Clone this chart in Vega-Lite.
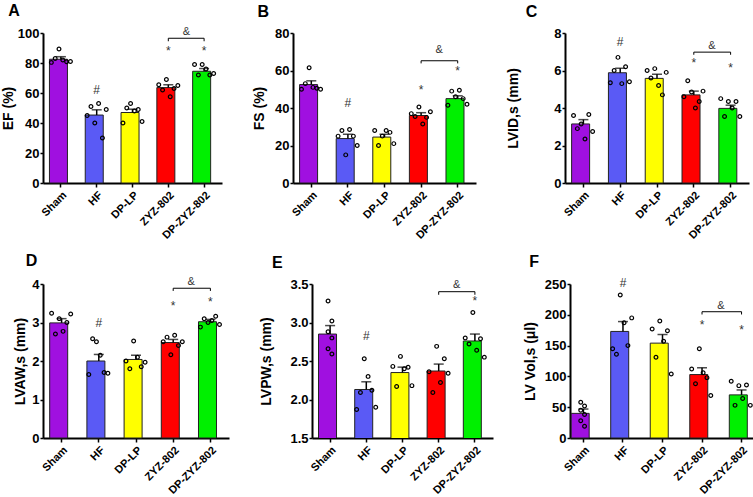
{
"$schema":"https://vega.github.io/schema/vega-lite/v6.json",
"padding":{"left":1,"top":2,"right":0,"bottom":0},
"spacing":11,
"data":{"values":[
{"p":"A","t":"b","g":"Sham","v":82.5,"hi":84.2},
{"p":"A","t":"b","g":"HF","v":45.3,"hi":48.8},
{"p":"A","t":"b","g":"DP-LP","v":47,"hi":49.2},
{"p":"A","t":"b","g":"ZYZ-802","v":63.6,"hi":65.5},
{"p":"A","t":"b","g":"DP-ZYZ-802","v":74.5,"hi":76.3},
{"p":"A","t":"s","g":"Sham","k":1,"v":80.4},{"p":"A","t":"s","g":"Sham","k":2,"v":83},{"p":"A","t":"s","g":"Sham","k":3,"v":89.3},{"p":"A","t":"s","g":"Sham","k":4,"v":82},{"p":"A","t":"s","g":"Sham","k":5,"v":80.8},{"p":"A","t":"s","g":"Sham","k":6,"v":81},
{"p":"A","t":"s","g":"HF","k":1,"v":45},{"p":"A","t":"s","g":"HF","k":2,"v":51},{"p":"A","t":"s","g":"HF","k":3,"v":40},{"p":"A","t":"s","g":"HF","k":4,"v":53},{"p":"A","t":"s","g":"HF","k":5,"v":30},{"p":"A","t":"s","g":"HF","k":6,"v":49},
{"p":"A","t":"s","g":"DP-LP","k":1,"v":40},{"p":"A","t":"s","g":"DP-LP","k":2,"v":50},{"p":"A","t":"s","g":"DP-LP","k":3,"v":53},{"p":"A","t":"s","g":"DP-LP","k":4,"v":48},{"p":"A","t":"s","g":"DP-LP","k":5,"v":49},{"p":"A","t":"s","g":"DP-LP","k":6,"v":41},
{"p":"A","t":"s","g":"ZYZ-802","k":1,"v":65.5},{"p":"A","t":"s","g":"ZYZ-802","k":2,"v":62},{"p":"A","t":"s","g":"ZYZ-802","k":3,"v":69},{"p":"A","t":"s","g":"ZYZ-802","k":4,"v":57.5},{"p":"A","t":"s","g":"ZYZ-802","k":5,"v":63},{"p":"A","t":"s","g":"ZYZ-802","k":6,"v":65},
{"p":"A","t":"s","g":"DP-ZYZ-802","k":1,"v":79},{"p":"A","t":"s","g":"DP-ZYZ-802","k":2,"v":72},{"p":"A","t":"s","g":"DP-ZYZ-802","k":3,"v":79},{"p":"A","t":"s","g":"DP-ZYZ-802","k":4,"v":76},{"p":"A","t":"s","g":"DP-ZYZ-802","k":5,"v":72},{"p":"A","t":"s","g":"DP-ZYZ-802","k":6,"v":73},
{"p":"A","t":"a","g":"HF","v":62,"l":"#"},{"p":"A","t":"a","g":"ZYZ-802","v":88,"l":"*"},{"p":"A","t":"a","g":"DP-ZYZ-802","v":88,"l":"*"},
{"p":"A","t":"m","g":"ZYZ-802","v":101,"l":"&"},
{"p":"A","t":"k","g":"ZYZ-802","v":94.5,"o":1},{"p":"A","t":"k","g":"ZYZ-802","v":96.5,"o":2},{"p":"A","t":"k","g":"DP-ZYZ-802","v":96.5,"o":3},{"p":"A","t":"k","g":"DP-ZYZ-802","v":94.5,"o":4},

{"p":"B","t":"b","g":"Sham","v":52.5,"hi":54.5},
{"p":"B","t":"b","g":"HF","v":23.7,"hi":26},
{"p":"B","t":"b","g":"DP-LP","v":24.5,"hi":26},
{"p":"B","t":"b","g":"ZYZ-802","v":36,"hi":37.5},
{"p":"B","t":"b","g":"DP-ZYZ-802","v":45,"hi":46.5},
{"p":"B","t":"s","g":"Sham","k":1,"v":50},{"p":"B","t":"s","g":"Sham","k":2,"v":53},{"p":"B","t":"s","g":"Sham","k":3,"v":61.5},{"p":"B","t":"s","g":"Sham","k":4,"v":51},{"p":"B","t":"s","g":"Sham","k":5,"v":50.5},{"p":"B","t":"s","g":"Sham","k":6,"v":50},
{"p":"B","t":"s","g":"HF","k":1,"v":25},{"p":"B","t":"s","g":"HF","k":2,"v":28},{"p":"B","t":"s","g":"HF","k":3,"v":15},{"p":"B","t":"s","g":"HF","k":4,"v":28.5},{"p":"B","t":"s","g":"HF","k":5,"v":25},{"p":"B","t":"s","g":"HF","k":6,"v":20},
{"p":"B","t":"s","g":"DP-LP","k":1,"v":28},{"p":"B","t":"s","g":"DP-LP","k":2,"v":20},{"p":"B","t":"s","g":"DP-LP","k":3,"v":25},{"p":"B","t":"s","g":"DP-LP","k":4,"v":28},{"p":"B","t":"s","g":"DP-LP","k":5,"v":27},{"p":"B","t":"s","g":"DP-LP","k":6,"v":21},
{"p":"B","t":"s","g":"ZYZ-802","k":1,"v":37},{"p":"B","t":"s","g":"ZYZ-802","k":2,"v":35.5},{"p":"B","t":"s","g":"ZYZ-802","k":3,"v":40.5},{"p":"B","t":"s","g":"ZYZ-802","k":4,"v":31.5},{"p":"B","t":"s","g":"ZYZ-802","k":5,"v":35},{"p":"B","t":"s","g":"ZYZ-802","k":6,"v":38},
{"p":"B","t":"s","g":"DP-ZYZ-802","k":1,"v":41.5},{"p":"B","t":"s","g":"DP-ZYZ-802","k":2,"v":49},{"p":"B","t":"s","g":"DP-ZYZ-802","k":3,"v":46},{"p":"B","t":"s","g":"DP-ZYZ-802","k":4,"v":49.5},{"p":"B","t":"s","g":"DP-ZYZ-802","k":5,"v":45},{"p":"B","t":"s","g":"DP-ZYZ-802","k":6,"v":42},
{"p":"B","t":"a","g":"HF","v":42.8,"l":"#"},{"p":"B","t":"a","g":"ZYZ-802","v":49.6,"l":"*"},{"p":"B","t":"a","g":"DP-ZYZ-802","v":60,"l":"*"},
{"p":"B","t":"m","g":"ZYZ-802","v":70.8,"l":"&"},
{"p":"B","t":"k","g":"ZYZ-802","v":63.8,"o":1},{"p":"B","t":"k","g":"ZYZ-802","v":65.2,"o":2},{"p":"B","t":"k","g":"DP-ZYZ-802","v":65.2,"o":3},{"p":"B","t":"k","g":"DP-ZYZ-802","v":63.8,"o":4},

{"p":"C","t":"b","g":"Sham","v":3.15,"hi":3.38},
{"p":"C","t":"b","g":"HF","v":5.88,"hi":6.12},
{"p":"C","t":"b","g":"DP-LP","v":5.58,"hi":5.8},
{"p":"C","t":"b","g":"ZYZ-802","v":4.7,"hi":4.9},
{"p":"C","t":"b","g":"DP-ZYZ-802","v":3.98,"hi":4.15},
{"p":"C","t":"s","g":"Sham","k":1,"v":3.6},{"p":"C","t":"s","g":"Sham","k":2,"v":2.9},{"p":"C","t":"s","g":"Sham","k":3,"v":3.15},{"p":"C","t":"s","g":"Sham","k":4,"v":2.35},{"p":"C","t":"s","g":"Sham","k":5,"v":3.65},{"p":"C","t":"s","g":"Sham","k":6,"v":2.75},
{"p":"C","t":"s","g":"HF","k":1,"v":5.35},{"p":"C","t":"s","g":"HF","k":2,"v":6.0},{"p":"C","t":"s","g":"HF","k":3,"v":6.7},{"p":"C","t":"s","g":"HF","k":4,"v":5.3},{"p":"C","t":"s","g":"HF","k":5,"v":6.2},{"p":"C","t":"s","g":"HF","k":6,"v":5.4},
{"p":"C","t":"s","g":"DP-LP","k":1,"v":6.0},{"p":"C","t":"s","g":"DP-LP","k":2,"v":5.6},{"p":"C","t":"s","g":"DP-LP","k":3,"v":6.1},{"p":"C","t":"s","g":"DP-LP","k":4,"v":5.2},{"p":"C","t":"s","g":"DP-LP","k":5,"v":4.7},{"p":"C","t":"s","g":"DP-LP","k":6,"v":5.9},
{"p":"C","t":"s","g":"ZYZ-802","k":1,"v":4.6},{"p":"C","t":"s","g":"ZYZ-802","k":2,"v":5.45},{"p":"C","t":"s","g":"ZYZ-802","k":3,"v":4.85},{"p":"C","t":"s","g":"ZYZ-802","k":4,"v":4.0},{"p":"C","t":"s","g":"ZYZ-802","k":5,"v":4.35},{"p":"C","t":"s","g":"ZYZ-802","k":6,"v":4.9},
{"p":"C","t":"s","g":"DP-ZYZ-802","k":1,"v":4.5},{"p":"C","t":"s","g":"DP-ZYZ-802","k":2,"v":3.55},{"p":"C","t":"s","g":"DP-ZYZ-802","k":3,"v":4.35},{"p":"C","t":"s","g":"DP-ZYZ-802","k":4,"v":4.0},{"p":"C","t":"s","g":"DP-ZYZ-802","k":5,"v":4.35},{"p":"C","t":"s","g":"DP-ZYZ-802","k":6,"v":3.55},
{"p":"C","t":"a","g":"HF","v":7.5,"l":"#"},{"p":"C","t":"a","g":"ZYZ-802","v":6.4,"l":"*"},{"p":"C","t":"a","g":"DP-ZYZ-802","v":6.15,"l":"*"},
{"p":"C","t":"m","g":"ZYZ-802","v":7.3,"l":"&"},
{"p":"C","t":"k","g":"ZYZ-802","v":6.84,"o":1},{"p":"C","t":"k","g":"ZYZ-802","v":6.98,"o":2},{"p":"C","t":"k","g":"DP-ZYZ-802","v":6.98,"o":3},{"p":"C","t":"k","g":"DP-ZYZ-802","v":6.84,"o":4},

{"p":"D","t":"b","g":"Sham","v":2.99,"hi":3.1},
{"p":"D","t":"b","g":"HF","v":2.0,"hi":2.17},
{"p":"D","t":"b","g":"DP-LP","v":2.04,"hi":2.15},
{"p":"D","t":"b","g":"ZYZ-802","v":2.48,"hi":2.56},
{"p":"D","t":"b","g":"DP-ZYZ-802","v":3.02,"hi":3.08},
{"p":"D","t":"s","g":"Sham","k":1,"v":3.24},{"p":"D","t":"s","g":"Sham","k":2,"v":2.7},{"p":"D","t":"s","g":"Sham","k":3,"v":3.1},{"p":"D","t":"s","g":"Sham","k":4,"v":2.77},{"p":"D","t":"s","g":"Sham","k":5,"v":3.0},{"p":"D","t":"s","g":"Sham","k":6,"v":3.22},
{"p":"D","t":"s","g":"HF","k":1,"v":1.65},{"p":"D","t":"s","g":"HF","k":2,"v":2.58},{"p":"D","t":"s","g":"HF","k":3,"v":2.5},{"p":"D","t":"s","g":"HF","k":4,"v":2.15},{"p":"D","t":"s","g":"HF","k":5,"v":1.7},{"p":"D","t":"s","g":"HF","k":6,"v":1.68},
{"p":"D","t":"s","g":"DP-LP","k":1,"v":2.0},{"p":"D","t":"s","g":"DP-LP","k":2,"v":1.8},{"p":"D","t":"s","g":"DP-LP","k":3,"v":2.52},{"p":"D","t":"s","g":"DP-LP","k":4,"v":2.1},{"p":"D","t":"s","g":"DP-LP","k":5,"v":1.85},{"p":"D","t":"s","g":"DP-LP","k":6,"v":1.97},
{"p":"D","t":"s","g":"ZYZ-802","k":1,"v":2.5},{"p":"D","t":"s","g":"ZYZ-802","k":2,"v":2.62},{"p":"D","t":"s","g":"ZYZ-802","k":3,"v":2.16},{"p":"D","t":"s","g":"ZYZ-802","k":4,"v":2.67},{"p":"D","t":"s","g":"ZYZ-802","k":5,"v":2.4},{"p":"D","t":"s","g":"ZYZ-802","k":6,"v":2.5},
{"p":"D","t":"s","g":"DP-ZYZ-802","k":1,"v":2.88},{"p":"D","t":"s","g":"DP-ZYZ-802","k":2,"v":3.1},{"p":"D","t":"s","g":"DP-ZYZ-802","k":3,"v":3.0},{"p":"D","t":"s","g":"DP-ZYZ-802","k":4,"v":3.05},{"p":"D","t":"s","g":"DP-ZYZ-802","k":5,"v":3.16},{"p":"D","t":"s","g":"DP-ZYZ-802","k":6,"v":2.95},
{"p":"D","t":"a","g":"HF","v":3.0,"l":"#"},{"p":"D","t":"a","g":"ZYZ-802","v":3.42,"l":"*"},{"p":"D","t":"a","g":"DP-ZYZ-802","v":3.54,"l":"*"},
{"p":"D","t":"m","g":"ZYZ-802","v":4.06,"l":"&"},
{"p":"D","t":"k","g":"ZYZ-802","v":3.82,"o":1},{"p":"D","t":"k","g":"ZYZ-802","v":3.89,"o":2},{"p":"D","t":"k","g":"DP-ZYZ-802","v":3.89,"o":3},{"p":"D","t":"k","g":"DP-ZYZ-802","v":3.82,"o":4},

{"p":"E","t":"b","g":"Sham","v":2.85,"hi":2.96},
{"p":"E","t":"b","g":"HF","v":2.13,"hi":2.23},
{"p":"E","t":"b","g":"DP-LP","v":2.35,"hi":2.42},
{"p":"E","t":"b","g":"ZYZ-802","v":2.37,"hi":2.46},
{"p":"E","t":"b","g":"DP-ZYZ-802","v":2.76,"hi":2.85},
{"p":"E","t":"s","g":"Sham","k":3,"v":3.28},{"p":"E","t":"s","g":"Sham","k":4,"v":3.02},{"p":"E","t":"s","g":"Sham","k":3,"v":2.88},{"p":"E","t":"s","g":"Sham","k":4,"v":2.8},{"p":"E","t":"s","g":"Sham","k":3,"v":2.66},{"p":"E","t":"s","g":"Sham","k":4,"v":2.59},
{"p":"E","t":"s","g":"HF","k":1,"v":1.87},{"p":"E","t":"s","g":"HF","k":2,"v":2.09},{"p":"E","t":"s","g":"HF","k":3,"v":2.53},{"p":"E","t":"s","g":"HF","k":4,"v":2.3},{"p":"E","t":"s","g":"HF","k":5,"v":2.12},{"p":"E","t":"s","g":"HF","k":6,"v":1.9},
{"p":"E","t":"s","g":"DP-LP","k":1,"v":2.43},{"p":"E","t":"s","g":"DP-LP","k":2,"v":2.17},{"p":"E","t":"s","g":"DP-LP","k":3,"v":2.56},{"p":"E","t":"s","g":"DP-LP","k":4,"v":2.4},{"p":"E","t":"s","g":"DP-LP","k":5,"v":2.42},{"p":"E","t":"s","g":"DP-LP","k":6,"v":2.18},
{"p":"E","t":"s","g":"ZYZ-802","k":1,"v":2.36},{"p":"E","t":"s","g":"ZYZ-802","k":2,"v":2.09},{"p":"E","t":"s","g":"ZYZ-802","k":3,"v":2.69},{"p":"E","t":"s","g":"ZYZ-802","k":4,"v":2.22},{"p":"E","t":"s","g":"ZYZ-802","k":5,"v":2.53},{"p":"E","t":"s","g":"ZYZ-802","k":6,"v":2.34},
{"p":"E","t":"s","g":"DP-ZYZ-802","k":1,"v":2.8},{"p":"E","t":"s","g":"DP-ZYZ-802","k":2,"v":2.72},{"p":"E","t":"s","g":"DP-ZYZ-802","k":3,"v":3.13},{"p":"E","t":"s","g":"DP-ZYZ-802","k":4,"v":2.64},{"p":"E","t":"s","g":"DP-ZYZ-802","k":5,"v":2.79},{"p":"E","t":"s","g":"DP-ZYZ-802","k":6,"v":2.55},
{"p":"E","t":"a","g":"HF","v":2.82,"l":"#"},{"p":"E","t":"a","g":"DP-ZYZ-802","v":3.28,"l":"*"},
{"p":"E","t":"m","g":"ZYZ-802","v":3.49,"l":"&"},
{"p":"E","t":"k","g":"ZYZ-802","v":3.36,"o":1},{"p":"E","t":"k","g":"ZYZ-802","v":3.4,"o":2},{"p":"E","t":"k","g":"DP-ZYZ-802","v":3.4,"o":3},{"p":"E","t":"k","g":"DP-ZYZ-802","v":3.36,"o":4},

{"p":"F","t":"b","g":"Sham","v":40,"hi":47},
{"p":"F","t":"b","g":"HF","v":173,"hi":189},
{"p":"F","t":"b","g":"DP-LP","v":154,"hi":168},
{"p":"F","t":"b","g":"ZYZ-802","v":103,"hi":114},
{"p":"F","t":"b","g":"DP-ZYZ-802","v":70,"hi":78},
{"p":"F","t":"s","g":"Sham","k":3,"v":58},{"p":"F","t":"s","g":"Sham","k":4,"v":52},{"p":"F","t":"s","g":"Sham","k":3,"v":45},{"p":"F","t":"s","g":"Sham","k":4,"v":38},{"p":"F","t":"s","g":"Sham","k":3,"v":28},{"p":"F","t":"s","g":"Sham","k":4,"v":19},
{"p":"F","t":"s","g":"HF","k":1,"v":145},{"p":"F","t":"s","g":"HF","k":2,"v":136},{"p":"F","t":"s","g":"HF","k":3,"v":232},{"p":"F","t":"s","g":"HF","k":4,"v":187},{"p":"F","t":"s","g":"HF","k":5,"v":150},{"p":"F","t":"s","g":"HF","k":6,"v":195},
{"p":"F","t":"s","g":"DP-LP","k":1,"v":177},{"p":"F","t":"s","g":"DP-LP","k":2,"v":131},{"p":"F","t":"s","g":"DP-LP","k":3,"v":190},{"p":"F","t":"s","g":"DP-LP","k":4,"v":157},{"p":"F","t":"s","g":"DP-LP","k":5,"v":174},{"p":"F","t":"s","g":"DP-LP","k":6,"v":104},
{"p":"F","t":"s","g":"ZYZ-802","k":1,"v":112},{"p":"F","t":"s","g":"ZYZ-802","k":2,"v":88},{"p":"F","t":"s","g":"ZYZ-802","k":3,"v":145},{"p":"F","t":"s","g":"ZYZ-802","k":4,"v":106},{"p":"F","t":"s","g":"ZYZ-802","k":5,"v":98},{"p":"F","t":"s","g":"ZYZ-802","k":6,"v":69},
{"p":"F","t":"s","g":"DP-ZYZ-802","k":1,"v":92},{"p":"F","t":"s","g":"DP-ZYZ-802","k":2,"v":53},{"p":"F","t":"s","g":"DP-ZYZ-802","k":3,"v":85},{"p":"F","t":"s","g":"DP-ZYZ-802","k":4,"v":64},{"p":"F","t":"s","g":"DP-ZYZ-802","k":5,"v":86},{"p":"F","t":"s","g":"DP-ZYZ-802","k":6,"v":53},
{"p":"F","t":"a","g":"HF","v":251,"l":"#"},{"p":"F","t":"a","g":"ZYZ-802","v":184,"l":"*"},{"p":"F","t":"a","g":"DP-ZYZ-802","v":175,"l":"*"},
{"p":"F","t":"m","g":"ZYZ-802","v":214,"l":"&"},
{"p":"F","t":"k","g":"ZYZ-802","v":200.5,"o":1},{"p":"F","t":"k","g":"ZYZ-802","v":205,"o":2},{"p":"F","t":"k","g":"DP-ZYZ-802","v":205,"o":3},{"p":"F","t":"k","g":"DP-ZYZ-802","v":200.5,"o":4}
]},
"vconcat":[
{"spacing":30,"hconcat":[
{"width":179,"height":150,"title":{"text":"A","anchor":"start","frame":"bounds","dx":7,"fontSize":16,"fontWeight":"bold","offset":7},"transform":[{"filter":"datum.p==='A'"}],
 "encoding":{"x":{"field":"g","type":"nominal","sort":["Sham","HF","DP-LP","ZYZ-802","DP-ZYZ-802"],"title":null,"scale":{"paddingInner":0.36}},
  "y":{"field":"v","type":"quantitative","title":"EF (%)","scale":{"domain":[0,100],"nice":false},"axis":{"values":[0,20,40,60,80,100],"titlePadding":2}}},
 "layer":[
  {"transform":[{"filter":"datum.t==='b'"}],"mark":{"type":"bar","stroke":"#222","strokeWidth":1},"encoding":{"color":{"field":"g","type":"nominal","scale":{"domain":["Sham","HF","DP-LP","ZYZ-802","DP-ZYZ-802"],"range":["#A010E0","#5A5AF5","#FFFF00","#FF0000","#00F000"]},"legend":null}}},
  {"transform":[{"filter":"datum.t==='b'"}],"mark":{"type":"rule","strokeWidth":1.5,"color":"black"},"encoding":{"y2":{"field":"hi"}}},
  {"transform":[{"filter":"datum.t==='b'"}],"mark":{"type":"tick","thickness":1.5,"size":10,"color":"black"},"encoding":{"y":{"field":"hi","type":"quantitative","title":"EF (%)","scale":{"domain":[0,100],"nice":false}}}},
  {"transform":[{"filter":"datum.t==='s'"}],"mark":{"type":"point","shape":"circle","filled":false,"color":"black","strokeWidth":1.2,"size":14,"opacity":1},"encoding":{"xOffset":{"field":"k","type":"nominal","scale":{"domain":[1,2,3,4,5,6],"paddingInner":0,"paddingOuter":0.5}}}},
  {"transform":[{"filter":"datum.t==='a'"}],"mark":{"type":"text","fontSize":12,"color":"#333"},"encoding":{"text":{"field":"l"}}},
  {"transform":[{"filter":"datum.t==='m'"}],"mark":{"type":"text","fontSize":11,"color":"#333","dx":18},"encoding":{"text":{"field":"l"}}},
  {"transform":[{"filter":"datum.t==='k'"}],"mark":{"type":"line","color":"black","strokeWidth":1},"encoding":{"order":{"field":"o"}}}
 ]},
{"width":183,"height":150,"title":{"text":"B","anchor":"start","frame":"bounds","dx":5,"fontSize":16,"fontWeight":"bold","offset":7},"transform":[{"filter":"datum.p==='B'"}],
 "encoding":{"x":{"field":"g","type":"nominal","sort":["Sham","HF","DP-LP","ZYZ-802","DP-ZYZ-802"],"title":null,"scale":{"paddingInner":0.36}},
  "y":{"field":"v","type":"quantitative","title":"FS (%)","scale":{"domain":[0,80],"nice":false},"axis":{"values":[0,20,40,60,80],"titlePadding":8}}},
 "layer":[
  {"transform":[{"filter":"datum.t==='b'"}],"mark":{"type":"bar","stroke":"#222","strokeWidth":1},"encoding":{"color":{"field":"g","type":"nominal","scale":{"domain":["Sham","HF","DP-LP","ZYZ-802","DP-ZYZ-802"],"range":["#A010E0","#5A5AF5","#FFFF00","#FF0000","#00F000"]},"legend":null}}},
  {"transform":[{"filter":"datum.t==='b'"}],"mark":{"type":"rule","strokeWidth":1.5,"color":"black"},"encoding":{"y2":{"field":"hi"}}},
  {"transform":[{"filter":"datum.t==='b'"}],"mark":{"type":"tick","thickness":1.5,"size":10,"color":"black"},"encoding":{"y":{"field":"hi","type":"quantitative","title":"FS (%)","scale":{"domain":[0,80],"nice":false}}}},
  {"transform":[{"filter":"datum.t==='s'"}],"mark":{"type":"point","shape":"circle","filled":false,"color":"black","strokeWidth":1.2,"size":14,"opacity":1},"encoding":{"xOffset":{"field":"k","type":"nominal","scale":{"domain":[1,2,3,4,5,6],"paddingInner":0,"paddingOuter":0.5}}}},
  {"transform":[{"filter":"datum.t==='a'"}],"mark":{"type":"text","fontSize":12,"color":"#333"},"encoding":{"text":{"field":"l"}}},
  {"transform":[{"filter":"datum.t==='m'"}],"mark":{"type":"text","fontSize":11,"color":"#333","dx":18},"encoding":{"text":{"field":"l"}}},
  {"transform":[{"filter":"datum.t==='k'"}],"mark":{"type":"line","color":"black","strokeWidth":1},"encoding":{"order":{"field":"o"}}}
 ]},
{"width":184,"height":150,"title":{"text":"C","anchor":"start","frame":"bounds","dx":19,"fontSize":16,"fontWeight":"bold","offset":7},"transform":[{"filter":"datum.p==='C'"}],
 "encoding":{"x":{"field":"g","type":"nominal","sort":["Sham","HF","DP-LP","ZYZ-802","DP-ZYZ-802"],"title":null,"scale":{"paddingInner":0.36}},
  "y":{"field":"v","type":"quantitative","title":"LVID,s (mm)","scale":{"domain":[0,8],"nice":false},"axis":{"values":[0,2,4,6,8],"titlePadding":33}}},
 "layer":[
  {"transform":[{"filter":"datum.t==='b'"}],"mark":{"type":"bar","stroke":"#222","strokeWidth":1},"encoding":{"color":{"field":"g","type":"nominal","scale":{"domain":["Sham","HF","DP-LP","ZYZ-802","DP-ZYZ-802"],"range":["#A010E0","#5A5AF5","#FFFF00","#FF0000","#00F000"]},"legend":null}}},
  {"transform":[{"filter":"datum.t==='b'"}],"mark":{"type":"rule","strokeWidth":1.5,"color":"black"},"encoding":{"y2":{"field":"hi"}}},
  {"transform":[{"filter":"datum.t==='b'"}],"mark":{"type":"tick","thickness":1.5,"size":10,"color":"black"},"encoding":{"y":{"field":"hi","type":"quantitative","title":"LVID,s (mm)","scale":{"domain":[0,8],"nice":false}}}},
  {"transform":[{"filter":"datum.t==='s'"}],"mark":{"type":"point","shape":"circle","filled":false,"color":"black","strokeWidth":1.2,"size":14,"opacity":1},"encoding":{"xOffset":{"field":"k","type":"nominal","scale":{"domain":[1,2,3,4,5,6],"paddingInner":0,"paddingOuter":0.5}}}},
  {"transform":[{"filter":"datum.t==='a'"}],"mark":{"type":"text","fontSize":12,"color":"#333"},"encoding":{"text":{"field":"l"}}},
  {"transform":[{"filter":"datum.t==='m'"}],"mark":{"type":"text","fontSize":11,"color":"#333","dx":18},"encoding":{"text":{"field":"l"}}},
  {"transform":[{"filter":"datum.t==='k'"}],"mark":{"type":"line","color":"black","strokeWidth":1},"encoding":{"order":{"field":"o"}}}
 ]}
]},
{"spacing":30,"hconcat":[
{"width":186,"height":154,"title":{"text":"D","anchor":"start","frame":"bounds","dx":12,"fontSize":16,"fontWeight":"bold","offset":7},"transform":[{"filter":"datum.p==='D'"}],
 "encoding":{"x":{"field":"g","type":"nominal","sort":["Sham","HF","DP-LP","ZYZ-802","DP-ZYZ-802"],"title":null,"scale":{"paddingInner":0.36}},
  "y":{"field":"v","type":"quantitative","title":"LVAW,s (mm)","scale":{"domain":[0,4],"nice":false},"axis":{"values":[0,1,2,3,4],"titlePadding":4}}},
 "layer":[
  {"transform":[{"filter":"datum.t==='b'"}],"mark":{"type":"bar","stroke":"#222","strokeWidth":1},"encoding":{"color":{"field":"g","type":"nominal","scale":{"domain":["Sham","HF","DP-LP","ZYZ-802","DP-ZYZ-802"],"range":["#A010E0","#5A5AF5","#FFFF00","#FF0000","#00F000"]},"legend":null}}},
  {"transform":[{"filter":"datum.t==='b'"}],"mark":{"type":"rule","strokeWidth":1.5,"color":"black"},"encoding":{"y2":{"field":"hi"}}},
  {"transform":[{"filter":"datum.t==='b'"}],"mark":{"type":"tick","thickness":1.5,"size":10,"color":"black"},"encoding":{"y":{"field":"hi","type":"quantitative","title":"LVAW,s (mm)","scale":{"domain":[0,4],"nice":false}}}},
  {"transform":[{"filter":"datum.t==='s'"}],"mark":{"type":"point","shape":"circle","filled":false,"color":"black","strokeWidth":1.2,"size":14,"opacity":1},"encoding":{"xOffset":{"field":"k","type":"nominal","scale":{"domain":[1,2,3,4,5,6],"paddingInner":0,"paddingOuter":0.5}}}},
  {"transform":[{"filter":"datum.t==='a'"}],"mark":{"type":"text","fontSize":12,"color":"#333"},"encoding":{"text":{"field":"l"}}},
  {"transform":[{"filter":"datum.t==='m'"}],"mark":{"type":"text","fontSize":11,"color":"#333","dx":18},"encoding":{"text":{"field":"l"}}},
  {"transform":[{"filter":"datum.t==='k'"}],"mark":{"type":"line","color":"black","strokeWidth":1},"encoding":{"order":{"field":"o"}}}
 ]},
{"width":181,"height":154,"title":{"text":"E","anchor":"start","frame":"bounds","dx":12,"fontSize":16,"fontWeight":"bold","offset":7},"transform":[{"filter":"datum.p==='E'"}],
 "encoding":{"x":{"field":"g","type":"nominal","sort":["Sham","HF","DP-LP","ZYZ-802","DP-ZYZ-802"],"title":null,"scale":{"paddingInner":0.36}},
  "y":{"field":"v","type":"quantitative","title":"LVPW,s (mm)","scale":{"domain":[1.5,3.5],"nice":false,"zero":false},"axis":{"values":[1.5,2,2.5,3,3.5],"format":".1f","titlePadding":16}}},
 "layer":[
  {"transform":[{"filter":"datum.t==='b'"}],"mark":{"type":"bar","stroke":"#222","strokeWidth":1,"clip":true},"encoding":{"color":{"field":"g","type":"nominal","scale":{"domain":["Sham","HF","DP-LP","ZYZ-802","DP-ZYZ-802"],"range":["#A010E0","#5A5AF5","#FFFF00","#FF0000","#00F000"]},"legend":null}}},
  {"transform":[{"filter":"datum.t==='b'"}],"mark":{"type":"rule","strokeWidth":1.5,"color":"black"},"encoding":{"y2":{"field":"hi"}}},
  {"transform":[{"filter":"datum.t==='b'"}],"mark":{"type":"tick","thickness":1.5,"size":10,"color":"black"},"encoding":{"y":{"field":"hi","type":"quantitative","title":"LVPW,s (mm)","scale":{"domain":[1.5,3.5],"nice":false,"zero":false}}}},
  {"transform":[{"filter":"datum.t==='s'"}],"mark":{"type":"point","shape":"circle","filled":false,"color":"black","strokeWidth":1.2,"size":14,"opacity":1},"encoding":{"xOffset":{"field":"k","type":"nominal","scale":{"domain":[1,2,3,4,5,6],"paddingInner":0,"paddingOuter":0.5}}}},
  {"transform":[{"filter":"datum.t==='a'"}],"mark":{"type":"text","fontSize":12,"color":"#333"},"encoding":{"text":{"field":"l"}}},
  {"transform":[{"filter":"datum.t==='m'"}],"mark":{"type":"text","fontSize":11,"color":"#333","dx":18},"encoding":{"text":{"field":"l"}}},
  {"transform":[{"filter":"datum.t==='k'"}],"mark":{"type":"line","color":"black","strokeWidth":1},"encoding":{"order":{"field":"o"}}}
 ]},
{"width":185,"height":154,"title":{"text":"F","anchor":"start","frame":"bounds","dx":6,"fontSize":16,"fontWeight":"bold","offset":7},"transform":[{"filter":"datum.p==='F'"}],
 "encoding":{"x":{"field":"g","type":"nominal","sort":["Sham","HF","DP-LP","ZYZ-802","DP-ZYZ-802"],"title":null,"scale":{"paddingInner":0.38,"paddingOuter":0.03}},
  "y":{"field":"v","type":"quantitative","title":"LV Vol,s (μl)","scale":{"domain":[0,250],"nice":false},"axis":{"values":[0,50,100,150,200,250],"titlePadding":7}}},
 "layer":[
  {"transform":[{"filter":"datum.t==='b'"}],"mark":{"type":"bar","stroke":"#222","strokeWidth":1},"encoding":{"color":{"field":"g","type":"nominal","scale":{"domain":["Sham","HF","DP-LP","ZYZ-802","DP-ZYZ-802"],"range":["#A010E0","#5A5AF5","#FFFF00","#FF0000","#00F000"]},"legend":null}}},
  {"transform":[{"filter":"datum.t==='b'"}],"mark":{"type":"rule","strokeWidth":1.5,"color":"black"},"encoding":{"y2":{"field":"hi"}}},
  {"transform":[{"filter":"datum.t==='b'"}],"mark":{"type":"tick","thickness":1.5,"size":10,"color":"black"},"encoding":{"y":{"field":"hi","type":"quantitative","title":"LV Vol,s (μl)","scale":{"domain":[0,250],"nice":false}}}},
  {"transform":[{"filter":"datum.t==='s'"}],"mark":{"type":"point","shape":"circle","filled":false,"color":"black","strokeWidth":1.2,"size":14,"opacity":1},"encoding":{"xOffset":{"field":"k","type":"nominal","scale":{"domain":[1,2,3,4,5,6],"paddingInner":0,"paddingOuter":0.5}}}},
  {"transform":[{"filter":"datum.t==='a'"}],"mark":{"type":"text","fontSize":12,"color":"#333"},"encoding":{"text":{"field":"l"}}},
  {"transform":[{"filter":"datum.t==='m'"}],"mark":{"type":"text","fontSize":11,"color":"#333","dx":19},"encoding":{"text":{"field":"l"}}},
  {"transform":[{"filter":"datum.t==='k'"}],"mark":{"type":"line","color":"black","strokeWidth":1},"encoding":{"order":{"field":"o"}}}
 ]}
]}
],
"config":{
 "view":{"stroke":null},
 "font":"Liberation Sans",
 "axis":{"grid":false,"domainColor":"black","tickColor":"black","labelColor":"black","titleColor":"black","labelFontWeight":"bold","titleFontWeight":"bold","domainWidth":2,"tickWidth":1.5,"labelFont":"Liberation Sans","titleFont":"Liberation Sans"},
 "axisY":{"labelFontSize":13,"titleFontSize":14,"tickSize":3,"labelPadding":1},
 "axisX":{"labelFontSize":11,"labelAngle":-45,"tickSize":4,"labelPadding":2},
 "title":{"font":"Liberation Sans","color":"black"},
 "text":{"font":"Liberation Sans"}
}
}
